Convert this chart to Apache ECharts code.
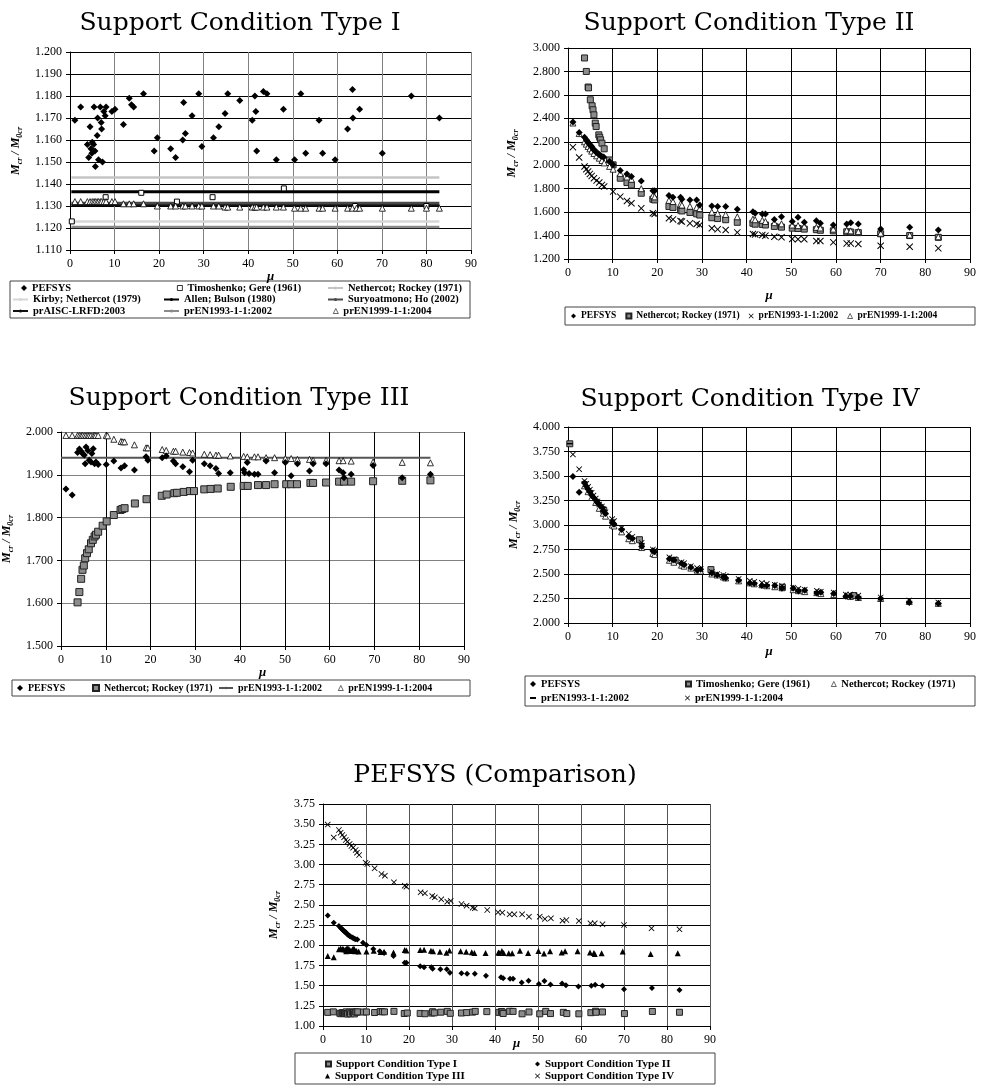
<!DOCTYPE html>
<html><head><meta charset="utf-8">
<script src="https://cdn.jsdelivr.net/npm/echarts@6/dist/echarts.min.js"></script>
<style>
html,body{margin:0;padding:0;background:#fff;width:986px;height:1086px;overflow:hidden}
.c{position:absolute;left:0;top:0;width:986px;height:1086px}
</style>
</head><body>
<div id="c1" class="c"></div><div id="c2" class="c"></div><div id="c3" class="c"></div><div id="c4" class="c"></div><div id="c5" class="c"></div>
<script>
// ---------------- DATA ----------------
const TITLES = ['Support Condition Type I','Support Condition Type II','Support Condition Type III','Support Condition Type IV','PEFSYS (Comparison)'];
const X_NAME = 'μ';
const Y_NAME = '{m|M}{s|cr}{m| / M}{s|0cr}';

// Panel I
const P1_PEFSYS = [[1.1,1.169],[2.4,1.175],[3.9,1.158],[4.2,1.152],[4.5,1.166],[4.7,1.156],[4.9,1.154],[5.0,1.159],[5.3,1.158],[5.4,1.175],[5.6,1.155],[5.7,1.148],[6.1,1.162],[6.2,1.170],[6.4,1.151],[6.8,1.175],[7.0,1.168],[7.1,1.165],[7.3,1.150],[7.6,1.173],[7.9,1.171],[8.1,1.175],[9.4,1.173],[10.1,1.174],[12.0,1.167],[13.3,1.179],[13.8,1.176],[14.3,1.175],[16.5,1.181],[18.9,1.155],[19.6,1.161],[22.6,1.156],[23.7,1.152],[25.3,1.160],[25.5,1.177],[25.9,1.163],[27.4,1.171],[28.9,1.181],[29.6,1.157],[32.2,1.161],[33.4,1.166],[34.8,1.172],[35.4,1.181],[38.1,1.178],[40.9,1.169],[41.5,1.180],[41.7,1.173],[41.9,1.155],[43.4,1.182],[44.2,1.181],[46.3,1.151],[47.9,1.174],[50.4,1.151],[51.8,1.181],[52.9,1.154],[55.9,1.169],[56.7,1.154],[59.5,1.151],[62.3,1.165],[63.4,1.183],[63.5,1.170],[65.0,1.174],[70.1,1.154],[76.6,1.180],[82.9,1.170]];
const P1_TIMOSHENKO = [[0.4,1.123],[8.0,1.134],[16.0,1.136],[24.0,1.132],[32.0,1.134],[48.0,1.138],[64.0,1.130],[80.0,1.130]];
const P1_PREN1999 = [[1.1,1.132],[2.4,1.132],[3.9,1.132],[4.5,1.132],[5.0,1.132],[5.4,1.132],[5.7,1.132],[6.1,1.132],[6.4,1.132],[6.8,1.132],[7.1,1.132],[7.6,1.132],[8.1,1.132],[9.4,1.132],[10.1,1.132],[12.0,1.131],[13.3,1.131],[14.3,1.131],[16.5,1.131],[19.6,1.130],[22.6,1.130],[23.7,1.130],[25.3,1.130],[25.9,1.130],[27.4,1.130],[28.9,1.130],[29.6,1.130],[32.2,1.130],[33.4,1.130],[34.8,1.1295],[35.4,1.1295],[38.1,1.1295],[40.9,1.1295],[41.5,1.1295],[41.9,1.1295],[43.4,1.1295],[44.2,1.1295],[46.3,1.1295],[47.9,1.1295],[50.4,1.129],[51.8,1.129],[52.9,1.129],[55.9,1.129],[56.7,1.129],[59.5,1.129],[62.3,1.129],[63.4,1.129],[64.3,1.129],[65.0,1.129],[70.1,1.129],[76.6,1.129],[80.0,1.129],[82.9,1.129]];
const P1_LINE_NAMES = ['Nethercot; Rockey (1971)','Kirby; Nethercot (1979)','Allen; Bulson (1980)','Suryoatmono; Ho (2002)','prAISC-LRFD:2003','prEN1993-1-1:2002'];
const P1_LINE_VALUES = [1.143, 1.123, 1.1365, 1.1312, 1.1303, 1.1205];
const P1_LINE_MU = [0.3, 82.9];

// Panel II
const P2_PEFSYS = [[1.1,2.368],[2.5,2.279],[3.7,2.239],[4.1,2.217],[4.3,2.205],[4.5,2.194],[4.7,2.185],[4.9,2.174],[5.1,2.165],[5.3,2.160],[5.6,2.140],[5.8,2.130],[6.0,2.125],[6.2,2.115],[6.4,2.108],[6.8,2.097],[7.0,2.090],[7.3,2.080],[7.6,2.075],[8.0,2.071],[9.3,2.031],[10.1,2.003],[11.7,1.954],[13.2,1.926],[14.2,1.903],[16.4,1.866],[19.0,1.783],[19.4,1.783],[22.6,1.741],[23.5,1.727],[25.2,1.727],[25.5,1.710],[27.3,1.704],[28.8,1.704],[29.5,1.661],[32.2,1.652],[33.5,1.647],[35.3,1.647],[37.9,1.624],[41.4,1.604],[41.9,1.590],[43.5,1.584],[44.2,1.584],[46.2,1.538],[47.8,1.561],[50.2,1.519],[51.5,1.556],[52.9,1.513],[55.6,1.527],[56.5,1.504],[59.4,1.490],[62.4,1.499],[63.3,1.510],[65.0,1.499],[70.0,1.456],[76.5,1.470],[82.9,1.447]];
const P2_NETHERCOT = [[3.7,2.915],[4.1,2.800],[4.5,2.667],[4.6,2.660],[5.0,2.558],[5.4,2.507],[5.6,2.473],[5.8,2.430],[6.1,2.359],[6.3,2.330],[6.9,2.259],[7.1,2.239],[7.3,2.217],[7.6,2.188],[8.1,2.140],[9.3,2.045],[10.1,2.003],[11.7,1.889],[13.2,1.852],[14.2,1.832],[16.4,1.761],[19.0,1.710],[19.4,1.704],[22.6,1.648],[23.5,1.640],[25.2,1.617],[25.5,1.610],[27.3,1.597],[28.8,1.585],[29.5,1.575],[32.2,1.552],[33.5,1.545],[35.3,1.535],[37.9,1.513],[41.4,1.505],[41.9,1.497],[43.5,1.495],[44.2,1.490],[46.2,1.478],[47.8,1.472],[50.2,1.463],[51.5,1.460],[52.9,1.455],[55.6,1.450],[56.5,1.445],[59.4,1.440],[62.4,1.432],[63.3,1.430],[65.0,1.425],[70.0,1.415],[76.5,1.400],[82.9,1.385]];
const P2_PREN1993 = [[1.1,2.154],[2.5,2.066],[3.7,1.989],[4.1,1.966],[4.5,1.946],[4.9,1.926],[5.3,1.909],[5.8,1.889],[6.4,1.869],[7.0,1.852],[7.6,1.832],[8.1,1.818],[10.1,1.775],[11.7,1.732],[13.2,1.695],[14.2,1.675],[16.4,1.632],[19.0,1.590],[19.4,1.584],[22.6,1.547],[23.5,1.538],[25.2,1.524],[25.5,1.519],[27.3,1.504],[28.8,1.499],[29.5,1.490],[32.2,1.462],[33.5,1.453],[35.3,1.447],[37.9,1.427],[41.4,1.413],[41.9,1.410],[43.5,1.405],[44.2,1.399],[46.2,1.390],[47.8,1.385],[50.2,1.370],[51.5,1.368],[52.9,1.368],[55.6,1.353],[56.5,1.353],[59.4,1.342],[62.4,1.333],[63.3,1.333],[65.0,1.328],[70.0,1.313],[76.5,1.305],[82.9,1.291]];
const P2_PREN1999 = [[1.1,2.360],[2.5,2.270],[3.7,2.200],[4.1,2.180],[4.5,2.160],[4.9,2.140],[5.3,2.120],[5.8,2.100],[6.4,2.080],[7.0,2.060],[7.6,2.040],[8.1,2.020],[9.3,1.990],[10.1,1.966],[11.7,1.930],[13.2,1.900],[14.2,1.880],[16.4,1.800],[19.0,1.740],[19.4,1.730],[22.6,1.700],[23.5,1.690],[25.2,1.670],[25.5,1.660],[27.3,1.650],[28.8,1.640],[29.5,1.630],[32.2,1.600],[33.5,1.590],[35.3,1.580],[37.9,1.560],[41.4,1.540],[41.9,1.535],[43.5,1.530],[44.2,1.520],[46.2,1.510],[47.8,1.500],[50.2,1.490],[51.5,1.485],[52.9,1.480],[55.6,1.470],[56.5,1.465],[59.4,1.455],[62.4,1.445],[63.3,1.440],[65.0,1.435],[70.0,1.420],[76.5,1.405],[82.9,1.390]];

// Panel III
const P3_PEFSYS = [[1.1,1.867],[2.5,1.853],[3.7,1.952],[4.1,1.960],[4.5,1.955],[4.8,1.950],[5.2,1.946],[5.4,1.926],[5.6,1.965],[6.0,1.957],[6.3,1.934],[6.7,1.930],[6.9,1.950],[7.2,1.961],[7.5,1.926],[7.8,1.930],[8.3,1.924],[10.1,1.924],[11.8,1.932],[13.4,1.916],[14.2,1.921],[16.4,1.911],[19.0,1.942],[19.4,1.934],[22.6,1.940],[23.5,1.944],[25.1,1.932],[25.6,1.926],[27.2,1.919],[28.7,1.907],[29.4,1.934],[32.0,1.926],[33.3,1.921],[34.6,1.915],[35.2,1.903],[37.8,1.905],[40.8,1.912],[41.0,1.905],[41.6,1.929],[42.0,1.903],[43.2,1.901],[44.0,1.901],[45.8,1.932],[47.7,1.905],[50.1,1.929],[51.4,1.898],[52.8,1.926],[55.5,1.909],[56.3,1.926],[59.2,1.926],[62.1,1.911],[63.0,1.905],[63.2,1.893],[64.8,1.901],[69.7,1.922],[76.2,1.893],[82.5,1.901]];
const P3_NETHERCOT = [[3.7,1.602],[4.1,1.626],[4.5,1.657],[4.8,1.678],[5.1,1.688],[5.4,1.705],[5.8,1.717],[6.2,1.726],[6.7,1.740],[7.1,1.748],[7.5,1.756],[7.8,1.760],[8.3,1.767],[9.3,1.781],[10.2,1.791],[11.8,1.806],[13.3,1.818],[13.7,1.820],[14.2,1.822],[16.5,1.833],[19.1,1.843],[22.5,1.851],[23.6,1.854],[25.3,1.857],[25.9,1.858],[27.4,1.860],[28.8,1.862],[29.7,1.862],[32.0,1.866],[33.4,1.867],[35.0,1.868],[37.9,1.872],[40.8,1.874],[41.7,1.874],[44.0,1.876],[45.8,1.876],[47.7,1.878],[50.3,1.878],[51.4,1.878],[52.7,1.878],[55.7,1.881],[56.3,1.881],[59.2,1.882],[62.1,1.884],[63.2,1.884],[64.8,1.884],[69.7,1.885],[76.2,1.886],[82.5,1.887]];
const P3_PREN1993_VALUE = 1.940;
const P3_LINE_MU = [0.0, 82.5];
const P3_PREN1999 = [[1.1,1.992],[2.5,1.992],[3.7,1.992],[4.1,1.992],[4.5,1.992],[4.8,1.992],[5.2,1.992],[5.6,1.992],[6.0,1.992],[6.3,1.992],[6.7,1.992],[7.2,1.992],[7.5,1.992],[7.8,1.992],[8.3,1.992],[10.1,1.992],[10.4,1.991],[11.8,1.983],[13.4,1.978],[13.8,1.977],[14.2,1.977],[16.4,1.970],[19.0,1.963],[19.4,1.963],[22.6,1.959],[23.5,1.957],[25.1,1.955],[25.6,1.955],[27.2,1.953],[28.7,1.952],[29.4,1.951],[32.0,1.948],[33.3,1.947],[34.6,1.946],[35.2,1.946],[37.8,1.944],[40.8,1.943],[41.6,1.942],[43.2,1.942],[44.0,1.942],[45.8,1.940],[47.7,1.940],[50.1,1.938],[51.4,1.938],[52.8,1.936],[55.5,1.936],[56.3,1.934],[59.2,1.934],[62.1,1.933],[63.0,1.933],[64.8,1.932],[69.7,1.930],[76.2,1.929],[82.5,1.928]];

// Panel IV
const P4_PEFSYS = [[1.1,3.495],[2.5,3.334],[3.7,3.428],[4.1,3.395],[4.5,3.366],[4.9,3.337],[5.3,3.304],[5.7,3.283],[6.2,3.255],[6.6,3.230],[7.0,3.209],[7.6,3.180],[7.9,3.147],[8.4,3.118],[9.9,3.023],[10.3,3.007],[12.0,2.953],[13.6,2.883],[14.4,2.862],[16.5,2.780],[19.0,2.738],[19.4,2.726],[22.7,2.656],[23.7,2.643],[25.4,2.610],[26.0,2.594],[27.5,2.569],[28.9,2.540],[29.7,2.549],[32.2,2.511],[33.4,2.491],[34.8,2.466],[35.3,2.458],[38.2,2.437],[40.7,2.408],[41.7,2.404],[43.4,2.383],[44.5,2.383],[46.3,2.383],[47.9,2.354],[50.4,2.354],[51.6,2.326],[53.0,2.334],[55.7,2.305],[56.6,2.313],[59.5,2.301],[62.2,2.272],[63.2,2.272],[65.0,2.260],[70.0,2.251],[76.4,2.210],[82.9,2.198]];
const P4_TIMOSHENKO = [[0.4,3.829],[8.0,3.150],[16.0,2.850],[24.0,2.640],[32.0,2.545],[48.0,2.365],[64.0,2.280]];
const P4_NETHERCOT = [[3.7,3.40],[4.5,3.34],[5.3,3.28],[6.2,3.23],[7.0,3.17],[7.9,3.12],[8.4,3.09],[9.9,3.00],[10.3,2.99],[12.0,2.93],[13.6,2.86],[14.4,2.84],[16.5,2.77],[19.0,2.71],[19.4,2.70],[22.7,2.64],[23.7,2.62],[25.4,2.59],[26.0,2.58],[27.5,2.56],[28.9,2.54],[29.7,2.53],[32.2,2.50],[33.4,2.49],[34.8,2.47],[35.3,2.46],[38.2,2.43],[40.7,2.41],[41.7,2.40],[43.4,2.39],[44.5,2.38],[46.3,2.37],[47.9,2.36],[50.4,2.34],[51.6,2.33],[53.0,2.32],[55.7,2.31],[56.6,2.30],[59.5,2.29],[62.2,2.28],[63.2,2.27],[65.0,2.26],[70.0,2.25],[76.4,2.22],[82.9,2.20]];
const P4_PREN1993 = [[0.4,3.83],[3.7,3.44],[4.9,3.35],[6.2,3.26],[7.6,3.18],[9.9,3.05],[12.0,2.96],[14.4,2.87],[16.5,2.81],[19.4,2.73],[23.7,2.64],[26.0,2.60],[28.9,2.55],[32.2,2.51],[34.8,2.48],[38.2,2.44],[41.7,2.41],[44.5,2.39],[47.9,2.37],[51.6,2.34],[55.7,2.32],[59.5,2.30],[63.2,2.28],[65.0,2.27],[70.0,2.25],[76.4,2.22],[82.9,2.20]];
const P4_PREN1999 = [[1.1,3.72],[2.5,3.57],[3.7,3.45],[4.1,3.42],[4.5,3.39],[4.9,3.36],[5.3,3.33],[5.7,3.30],[6.2,3.27],[6.6,3.24],[7.0,3.21],[7.6,3.19],[7.9,3.16],[8.4,3.13],[9.9,3.06],[10.3,3.04],[12.0,2.97],[13.6,2.91],[14.4,2.88],[16.5,2.82],[19.0,2.75],[19.4,2.74],[22.7,2.67],[23.7,2.65],[25.4,2.62],[26.0,2.61],[27.5,2.58],[28.9,2.56],[29.7,2.55],[32.2,2.52],[33.4,2.50],[34.8,2.49],[35.3,2.48],[38.2,2.45],[40.7,2.43],[41.7,2.42],[43.4,2.41],[44.5,2.40],[46.3,2.39],[47.9,2.38],[50.4,2.36],[51.6,2.35],[53.0,2.34],[55.7,2.33],[56.6,2.32],[59.5,2.31],[62.2,2.29],[63.2,2.29],[65.0,2.28],[70.0,2.26],[76.4,2.23],[82.9,2.21]];

// Panel V (PEFSYS results of the four support conditions)
const P5_NAMES = ['Support Condition Type I','Support Condition Type II','Support Condition Type III','Support Condition Type IV'];
const P5_DATA = [P1_PEFSYS, P2_PEFSYS, P3_PEFSYS, P4_PEFSYS];

// ---------------- STYLE / HELPERS ----------------
const SERIF = 'Liberation Serif';
const CROSS = 'path://M0,1L1,0L5,4L9,0L10,1L6,5L10,9L9,10L5,6L1,10L0,9L4,5Z';
const OPEN_ICON = {color:'#fff', borderColor:'#000', borderWidth:0.6};

function xAxisOf(vColor, nameGap){
  return {type:'value', min:0, max:90, interval:10, name:X_NAME, nameLocation:'middle', nameGap:nameGap, nameMoveOverlap:false,
    nameTextStyle:{fontFamily:SERIF, fontStyle:'italic', fontWeight:'bold', fontSize:13, color:'#000'},
    axisLine:{show:true, onZero:false, lineStyle:{color:'#000', width:1}},
    axisTick:{show:true, length:4, lineStyle:{color:'#000'}},
    axisLabel:{fontFamily:SERIF, fontSize:12, color:'#000', margin:8},
    splitLine:{show:true, lineStyle:{color:vColor, width:1}}};
}
function yAxisOf(min, max, interval, dec, hColor, nameGap){
  return {type:'value', min:min, max:max, interval:interval, name:Y_NAME, nameLocation:'middle', nameRotate:90, nameGap:nameGap, nameMoveOverlap:false,
    nameTextStyle:{rich:{
      m:{fontFamily:SERIF, fontStyle:'italic', fontWeight:'bold', fontSize:12, lineHeight:16, color:'#000'},
      s:{fontFamily:SERIF, fontStyle:'italic', fontWeight:'bold', fontSize:8, lineHeight:8, verticalAlign:'bottom', color:'#000'}}},
    axisLine:{show:true, onZero:false, lineStyle:{color:'#000', width:1}},
    axisTick:{show:true, length:4, lineStyle:{color:'#000'}},
    axisLabel:{fontFamily:SERIF, fontSize:12, color:'#000', margin:8, formatter:v => v.toFixed(dec)},
    splitLine:{show:true, lineStyle:{color:hColor, width:1}}};
}
function sc(name, data, symbol, size, fill, stroke, bw){
  return {type:'scatter', name:name, data:data, symbol:symbol, symbolSize:size,
    itemStyle:{color:fill, borderColor:stroke, borderWidth:bw, opacity:1}, emphasis:{disabled:true}, animation:false};
}
function hl(name, y, range, color, w){
  return {type:'line', name:name, data:[[range[0], y], [range[1], y]], symbol:'none', showSymbol:false,
    lineStyle:{color:color, width:w}, itemStyle:{color:color}, emphasis:{disabled:true}, animation:false, z:1};
}
function leg(name, left, yc, iw, ih, fs, iconStyle){
  const item = iconStyle ? {name:name, itemStyle:iconStyle} : name;
  return {data:[item], left:left, top:yc - 7, orient:'horizontal', itemWidth:iw, itemHeight:ih, itemGap:0, padding:0,
    selectedMode:false, textStyle:{fontFamily:SERIF, fontWeight:'bold', fontSize:fs, color:'#000', lineHeight:14}};
}
function ttl(text, x, y, fs){
  return {type:'text', x:x, y:y, silent:true, style:{text:text, fontFamily:'DejaVu Serif', fontSize:fs, fill:'#000', align:'center', verticalAlign:'middle'}};
}
function box(x, y, w, h){
  return {type:'rect', silent:true, shape:{x:x, y:y, width:w, height:h}, style:{fill:'none', stroke:'#444', lineWidth:1}};
}
function draw(id, opt){
  const c = echarts.init(document.getElementById(id), null, {renderer:'canvas'});
  opt.animation = false;
  c.setOption(opt);
}

// ---------------- PANEL I ----------------
const LINE_COLORS = ['#c4c4c4','#d6d6d6','#000000','#4a4a4a','#111111','#8a8a8a'];
const LINE_WIDTHS = [2.5, 2.5, 3, 3, 2, 2.5];
const p1Series = P1_LINE_NAMES.map((n, i) => hl(n, P1_LINE_VALUES[i], P1_LINE_MU, LINE_COLORS[i], LINE_WIDTHS[i]));
p1Series.push(sc('Timoshenko; Gere (1961)', P1_TIMOSHENKO, 'rect', 5, '#fff', '#000', 1));
p1Series.push(sc('prEN1999-1-1:2004', P1_PREN1999, 'triangle', 6, '#fff', '#000', 0.8));
p1Series.push(sc('PEFSYS', P1_PEFSYS, 'diamond', 7, '#000', '#000', 0));
const L1 = [288, 299.5, 311];
draw('c1', {
  grid:{left:70, top:52, width:401, height:198},
  xAxis:xAxisOf('#808080', 20),
  yAxis:yAxisOf(1.11, 1.2, 0.01, 3, '#000', 46),
  series:p1Series,
  legend:[
    leg('PEFSYS', 21, L1[0], 6, 6, 10.5),
    leg('Kirby; Nethercot (1979)', 12, L1[1], 15, 4, 10.5),
    leg('prAISC-LRFD:2003', 12, L1[2], 15, 4, 10.5),
    leg('Timoshenko; Gere (1961)', 177, L1[0], 5, 5, 10.5, {color:'#fff', borderColor:'#000', borderWidth:0.8}),
    leg('Allen; Bulson (1980)', 163, L1[1], 15, 4, 10.5),
    leg('prEN1993-1-1:2002', 163, L1[2], 15, 4, 10.5),
    leg('Nethercot; Rockey (1971)', 327, L1[0], 15, 4, 10.5),
    leg('Suryoatmono; Ho (2002)', 327, L1[1], 15, 4, 10.5),
    leg('prEN1999-1-1:2004', 333, L1[2], 5, 5, 10.5, OPEN_ICON)
  ],
  graphic:[ttl(TITLES[0], 240, 23, 25), box(10, 281, 460, 37)]
});

// ---------------- PANEL II ----------------
draw('c2', {
  grid:{left:568, top:48, width:402, height:211},
  xAxis:xAxisOf('#000', 30),
  yAxis:yAxisOf(1.2, 3.0, 0.2, 3, '#000', 48),
  series:[
    sc('Nethercot; Rockey (1971)', P2_NETHERCOT, 'rect', 6, '#8c8c8c', '#222', 1),
    sc('prEN1993-1-1:2002', P2_PREN1993, CROSS, 7, '#000', '#000', 0),
    sc('prEN1999-1-1:2004', P2_PREN1999, 'triangle', 6, '#fff', '#000', 0.8),
    sc('PEFSYS', P2_PEFSYS, 'diamond', 7, '#000', '#000', 0)
  ],
  legend:[{data:['PEFSYS','Nethercot; Rockey (1971)','prEN1993-1-1:2002',{name:'prEN1999-1-1:2004', itemStyle:OPEN_ICON}], left:571, top:309,
    orient:'horizontal', itemWidth:5, itemHeight:5, itemGap:9, padding:0, selectedMode:false,
    textStyle:{fontFamily:SERIF, fontWeight:'bold', fontSize:9.5, color:'#000', lineHeight:14}}],
  graphic:[ttl(TITLES[1], 749, 23, 25), box(565, 307, 410, 18)]
});

// ---------------- PANEL III ----------------
draw('c3', {
  grid:{left:60, top:432, width:404, height:214},
  xAxis:xAxisOf('#000', 20),
  yAxis:yAxisOf(1.5, 2.0, 0.1, 3, '#808080', 46),
  series:[
    hl('prEN1993-1-1:2002', P3_PREN1993_VALUE, P3_LINE_MU, '#555', 2),
    sc('Nethercot; Rockey (1971)', P3_NETHERCOT, 'rect', 7, '#8c8c8c', '#222', 1),
    sc('prEN1999-1-1:2004', P3_PREN1999, 'triangle', 6, '#fff', '#000', 0.8),
    sc('PEFSYS', P3_PEFSYS, 'diamond', 7, '#000', '#000', 0)
  ],
  legend:[
    leg('PEFSYS', 17, 688, 6, 6, 10),
    leg('Nethercot; Rockey (1971)', 92, 688, 6, 6, 10),
    leg('prEN1993-1-1:2002', 218, 688, 14, 3, 10),
    leg('prEN1999-1-1:2004', 338, 688, 5, 5, 10, OPEN_ICON)
  ],
  graphic:[ttl(TITLES[2], 239, 398, 25), box(12, 680, 458, 16)]
});

// ---------------- PANEL IV ----------------
draw('c4', {
  grid:{left:568, top:427, width:402, height:196},
  xAxis:xAxisOf('#000', 22),
  yAxis:yAxisOf(2.0, 4.0, 0.25, 3, '#000', 46),
  series:[
    sc('Timoshenko; Gere (1961)', P4_TIMOSHENKO, 'rect', 6, '#8c8c8c', '#222', 1),
    sc('Nethercot; Rockey (1971)', P4_NETHERCOT, 'triangle', 6, '#fff', '#000', 0.8),
    sc('prEN1993-1-1:2002', P4_PREN1993, 'rect', [6, 1.5], '#000', '#000', 0),
    sc('prEN1999-1-1:2004', P4_PREN1999, CROSS, 6, '#000', '#000', 0),
    sc('PEFSYS', P4_PEFSYS, 'diamond', 7, '#000', '#000', 0)
  ],
  legend:[
    leg('PEFSYS', 530, 684, 6, 6, 10.5),
    leg('Timoshenko; Gere (1961)', 685, 684, 5, 5, 10.5),
    leg('Nethercot; Rockey (1971)', 831, 684, 5, 5, 10.5, OPEN_ICON),
    leg('prEN1993-1-1:2002', 530, 698, 6, 2, 10.5),
    leg('prEN1999-1-1:2004', 685, 698, 5, 5, 10.5)
  ],
  graphic:[ttl(TITLES[3], 750, 399, 25), box(525, 676, 450, 30)]
});

// ---------------- PANEL V ----------------
draw('c5', {
  grid:{left:323, top:804, width:387, height:222},
  xAxis:xAxisOf('#555', 11),
  yAxis:yAxisOf(1.0, 3.75, 0.25, 2, '#000', 41),
  series:[
    sc(P5_NAMES[0], P5_DATA[0], 'rect', 6, '#8c8c8c', '#222', 1),
    sc(P5_NAMES[1], P5_DATA[1], 'diamond', 6, '#000', '#000', 0),
    sc(P5_NAMES[2], P5_DATA[2], 'triangle', 6, '#000', '#000', 0),
    sc(P5_NAMES[3], P5_DATA[3], CROSS, 6, '#000', '#000', 0)
  ],
  legend:[
    leg(P5_NAMES[0], 325, 1064, 5, 5, 11),
    leg(P5_NAMES[1], 535, 1064, 5, 5, 11),
    leg(P5_NAMES[2], 325, 1076, 5, 5, 11),
    leg(P5_NAMES[3], 535, 1076, 5, 5, 11)
  ],
  graphic:[ttl(TITLES[4], 495, 775, 25), box(295, 1053, 420, 31)]
});
</script>
</body></html>
